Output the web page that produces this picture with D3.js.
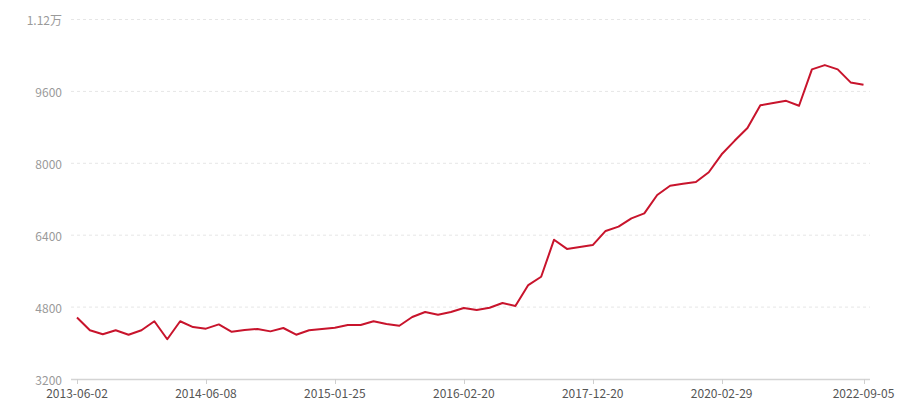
<!DOCTYPE html>
<html>
<head>
<meta charset="utf-8">
<script src="https://cdn.jsdelivr.net/npm/d3@7"></script>
<style>
  html, body { margin: 0; padding: 0; background: #fff; }
  svg { display: block; }
  text { font-family: "Noto Sans CJK SC", "Noto Sans", sans-serif; }
</style>
</head>
<body>
<svg id="chart" width="900" height="400"></svg>
<script>
// ---- data ----
const values = [
  4570, 4285, 4195, 4285, 4185, 4285, 4485, 4085, 4485, 4355,
  4320, 4415, 4250, 4290, 4315, 4260, 4335, 4185, 4285, 4315,
  4340, 4400, 4400, 4485, 4425, 4385, 4580, 4690, 4630, 4690,
  4780, 4735, 4785, 4890, 4825, 5290, 5475, 6300, 6095, 6135,
  6180, 6495, 6590, 6775, 6885, 7295, 7500, 7545, 7585, 7800,
  8200, 8500, 8785, 9290, 9340, 9390, 9280, 10090, 10185, 10090,
  9800, 9750
];
const xTickIndex = [0, 10, 20, 30, 40, 50, 61];
const xTickLabels = ["2013-06-02", "2014-06-08", "2015-01-25", "2016-02-20", "2017-12-20", "2020-02-29", "2022-09-05"];
const yTicks = [3200, 4800, 6400, 8000, 9600, 11200];
const yTickLabels = ["3200", "4800", "6400", "8000", "9600", "1.12万"];

// ---- layout ----
const svg = d3.select("#chart");
const plotLeft = 71, plotRight = 870, plotTop = 19.5, plotBottom = 379;

const x = d3.scaleLinear().domain([0, values.length - 1]).range([77, 863.5]);
const y = d3.scaleLinear().domain([3200, 11200]).range([plotBottom, plotTop]);

// grid lines
svg.append("g").selectAll("line")
  .data(yTicks.slice(1))
  .join("line")
  .attr("x1", plotLeft).attr("x2", plotRight)
  .attr("y1", d => y(d)).attr("y2", d => y(d))
  .attr("stroke", "#e6e6e6")
  .attr("stroke-width", 1)
  .attr("stroke-dasharray", "3,3");

// y labels
svg.append("g").selectAll("text")
  .data(yTicks)
  .join("text")
  .attr("x", 62)
  .attr("y", d => y(d))
  .attr("text-anchor", "end")
  .attr("dominant-baseline", "central")
  .attr("font-size", 12)
  .attr("fill", "#9a9a9a")
  .text((d, i) => yTickLabels[i]);

// x axis line
svg.append("line")
  .attr("x1", plotLeft).attr("x2", plotRight)
  .attr("y1", plotBottom + 0.5).attr("y2", plotBottom + 0.5)
  .attr("stroke", "#d4d4d4").attr("stroke-width", 1.3);

// x ticks
svg.append("g").selectAll("line")
  .data(xTickIndex)
  .join("line")
  .attr("x1", d => Math.round(x(d)) + 0.5).attr("x2", d => Math.round(x(d)) + 0.5)
  .attr("y1", plotBottom).attr("y2", plotBottom + 5)
  .attr("stroke", "#cfcfcf").attr("stroke-width", 1);

// x labels
svg.append("g").selectAll("text")
  .data(xTickIndex)
  .join("text")
  .attr("x", d => x(d))
  .attr("y", 392.5)
  .attr("text-anchor", "middle")
  .attr("dominant-baseline", "central")
  .attr("font-size", 12)
  .attr("fill", "#555")
  .text((d, i) => xTickLabels[i]);

// line
const line = d3.line()
  .x((d, i) => x(i))
  .y(d => y(d));

svg.append("path")
  .datum(values)
  .attr("d", line)
  .attr("fill", "none")
  .attr("stroke", "#c8142c")
  .attr("stroke-width", 2)
  .attr("stroke-linejoin", "round");
</script>
</body>
</html>
